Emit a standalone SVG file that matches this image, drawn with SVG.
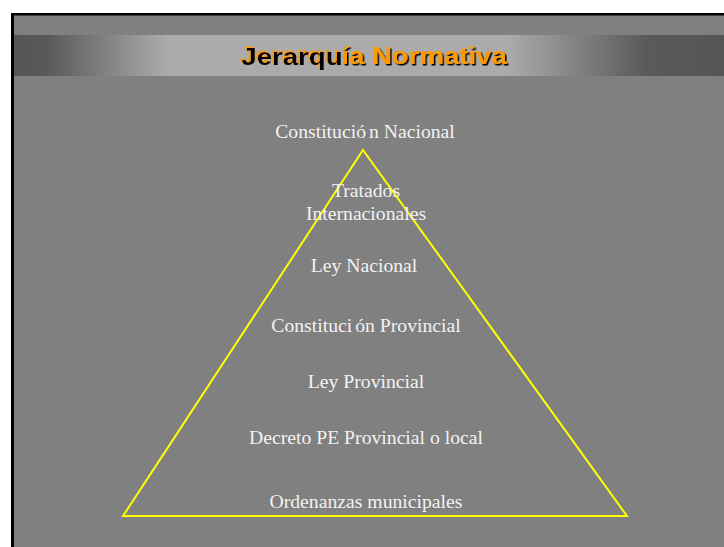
<svg xmlns="http://www.w3.org/2000/svg" width="724" height="547" viewBox="0 0 724 547">
<defs>
<linearGradient id="band" gradientUnits="userSpaceOnUse" x1="14" y1="0" x2="724" y2="0">
<stop offset="0" stop-color="#555555"/>
<stop offset="0.045" stop-color="#595959"/>
<stop offset="0.215" stop-color="#ababab"/>
<stop offset="0.695" stop-color="#ababab"/>
<stop offset="0.89" stop-color="#5a5a5a"/>
<stop offset="1" stop-color="#555555"/>
</linearGradient>
<filter id="shBlack" x="-10%" y="-30%" width="120%" height="160%">
<feDropShadow dx="1.3" dy="1.5" stdDeviation="0" flood-color="#000000" flood-opacity="1"/>
</filter>
<filter id="shOrange" x="-10%" y="-30%" width="120%" height="160%">
<feDropShadow dx="-1.3" dy="-1.5" stdDeviation="0" flood-color="#ff9900" flood-opacity="1"/>
</filter>
<style>
.lbl{font-family:"Liberation Serif","Times New Roman",serif;font-size:19.7px;fill:#f2f2f2;text-anchor:middle}
.ttl{font-family:"Liberation Sans",Arial,sans-serif;font-size:23px;font-weight:bold}
</style>
</defs>
<rect x="0" y="0" width="724" height="547" fill="#ffffff"/>
<rect x="11" y="13" width="713" height="534" fill="#000000"/>
<rect x="14" y="15.5" width="710" height="531.5" fill="#808080"/>
<g id="title">
<rect x="14" y="35" width="710" height="41" fill="url(#band)"/>
<g transform="translate(240,63.5) scale(1.2,1)">
<text class="ttl" x="1.1" y="1.5" fill="#000000" filter="url(#shOrange)">Jerarqu</text>
<text class="ttl" x="84.36" y="0" fill="#ff9900" filter="url(#shBlack)">ía Normativa</text>
</g>
</g>
<g id="connectors">
<polygon points="363,150 627,516 123,516" fill="none" stroke="#ffff00" stroke-width="2"/>
</g>
<g id="n1"><text class="lbl" x="365" y="137.5">Constitució<tspan dx="3">n Nacional</tspan></text></g>
<g id="n2"><text class="lbl" x="366" y="196.5">Tratados</text><text class="lbl" x="366" y="219.5">Internacionales</text></g>
<g id="n3"><text class="lbl" x="364" y="271.5">Ley Nacional</text></g>
<g id="n4"><text class="lbl" x="366" y="331.5">Constituci<tspan dx="3">ón Provincial</tspan></text></g>
<g id="n5"><text class="lbl" x="366" y="387.5">Ley Provincial</text></g>
<g id="n6"><text class="lbl" x="366" y="444">Decreto PE Provincial o local</text></g>
<g id="n7"><text class="lbl" x="366" y="508">Ordenanzas municipales</text></g>
</svg>
